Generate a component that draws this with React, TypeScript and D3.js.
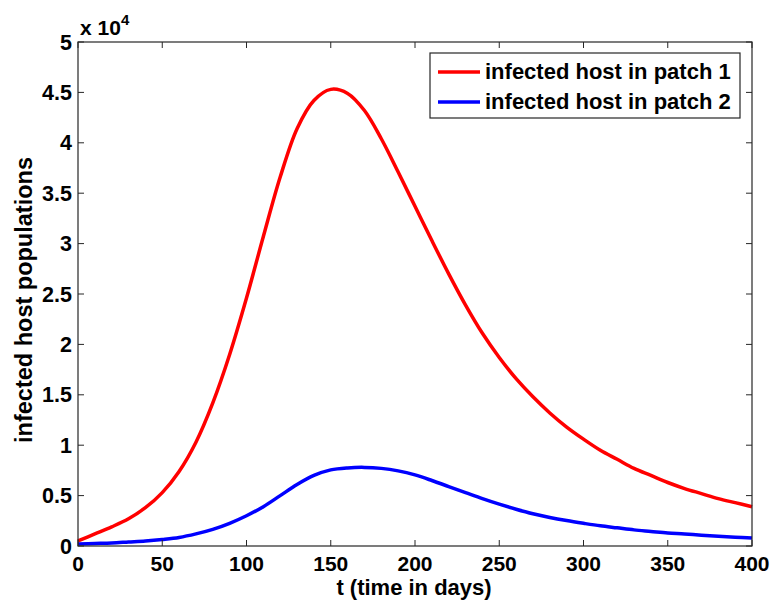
import React from "react";
import * as d3 from "d3";

const days = d3.range(0, 401, 10);
const patch1 = [0.05, 0.12, 0.19, 0.27, 0.38, 0.53, 0.74, 1.03, 1.42, 1.9, 2.46, 3.07, 3.66, 4.14, 4.42, 4.53, 4.49, 4.32, 4.04, 3.71, 3.37, 3.03, 2.7, 2.39, 2.11, 1.87, 1.66, 1.48, 1.32, 1.18, 1.06, 0.95, 0.86, 0.77, 0.7, 0.63, 0.57, 0.52, 0.47, 0.43, 0.39];
const patch2 = [0.02, 0.025, 0.03, 0.04, 0.05, 0.065, 0.085, 0.12, 0.165, 0.225, 0.3, 0.39, 0.5, 0.61, 0.7, 0.755, 0.775, 0.78, 0.77, 0.745, 0.705, 0.65, 0.59, 0.53, 0.47, 0.415, 0.365, 0.32, 0.283, 0.252, 0.225, 0.2, 0.18, 0.16, 0.145, 0.13, 0.12, 0.107, 0.097, 0.088, 0.08];
const xTicks = [0, 50, 100, 150, 200, 250, 300, 350, 400];
const yTicks = [0, 0.5, 1, 1.5, 2, 2.5, 3, 3.5, 4, 4.5, 5];
const seriesNames = ["infected host in patch 1", "infected host in patch 2"];
const seriesColors = ["#ff0000", "#0000ff"];

export default function App() {
  const W = 770, H = 602;
  const L = 78, R = 752, T = 42, B = 546;
  const x = d3.scaleLinear().domain([0, 400]).range([L, R]);
  const y = d3.scaleLinear().domain([0, 5]).range([B, T]);
  const line = d3.line<number>().x((_, i) => x(days[i])).y((d) => y(d)).curve(d3.curveCatmullRom.alpha(0.5));
  const axisColor = "#262626";
  const font = "Liberation Sans, Arial, sans-serif";
  const series = [patch1, patch2];
  return (
    <svg width={W} height={H} style={{ position: "absolute", left: 0, top: 0, background: "#fff" }} fontFamily={font}>
      <rect x={0} y={0} width={W} height={H} fill="#fff" />
      {series.map((s, i) => (
        <path key={i} d={line(s) || ""} fill="none" stroke={seriesColors[i]} strokeWidth={3.5} />
      ))}
      <rect x={L} y={T} width={R - L} height={B - T} fill="none" stroke={axisColor} strokeWidth={1.2} />
      {xTicks.map((t) => (
        <g key={"x" + t}>
          <line x1={x(t)} x2={x(t)} y1={B} y2={B - 6} stroke={axisColor} />
          <line x1={x(t)} x2={x(t)} y1={T} y2={T + 6} stroke={axisColor} />
          <text x={x(t)} y={571} textAnchor="middle" fontSize={21} fontWeight="bold" fill="#000">{t}</text>
        </g>
      ))}
      {yTicks.map((t) => (
        <g key={"y" + t}>
          <line x1={L} x2={L + 6} y1={y(t)} y2={y(t)} stroke={axisColor} />
          <line x1={R} x2={R - 6} y1={y(t)} y2={y(t)} stroke={axisColor} />
          <text x={72} y={y(t) + 7.5} textAnchor="end" fontSize={21.5} fontWeight="bold" fill="#000">{t}</text>
        </g>
      ))}
      <text x={80} y={35} fontSize={21} fontWeight="bold" fill="#000">
        x 10<tspan fontSize={15} dy={-10}>4</tspan>
      </text>
      <text x={414} y={595} textAnchor="middle" fontSize={22} fontWeight="bold" fill="#000">t (time in days)</text>
      <text transform={`translate(32,300) rotate(-90)`} textAnchor="middle" fontSize={23.5} fontWeight="bold" fill="#000">infected host populations</text>
      <rect x={430} y={53} width={310} height={65} fill="#fff" stroke={axisColor} strokeWidth={1.2} />
      {seriesNames.map((n, i) => (
        <g key={n}>
          <line x1={438} x2={480} y1={72 + i * 30} y2={72 + i * 30} stroke={seriesColors[i]} strokeWidth={3.5} />
          <text x={485} y={79 + i * 30} fontSize={22} fontWeight="bold" fill="#000">{n}</text>
        </g>
      ))}
    </svg>
  );
}
